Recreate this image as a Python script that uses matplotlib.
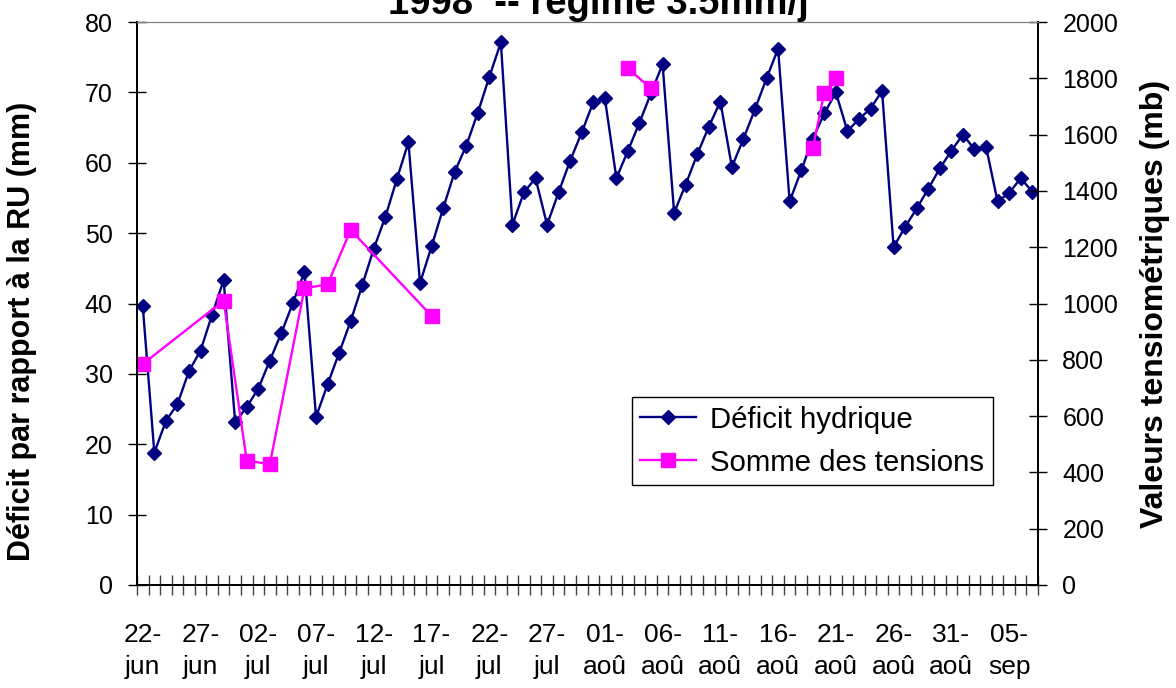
import matplotlib
matplotlib.use("Agg")
import matplotlib.pyplot as plt
import pandas as pd

plt.rcParams['font.family'] = ['Liberation Sans', 'DejaVu Sans']

# Données : déficit hydrique journalier (mm), du 22-jun au 07-sep 1998
deficit = [39.6, 18.8, 23.3, 25.7, 30.4, 33.3, 38.4, 43.3, 23.1, 25.3,
           27.9, 31.9, 35.8, 40.1, 44.5, 23.9, 28.5, 33.0, 37.5, 42.6,
           47.8, 52.3, 57.7, 62.9, 42.9, 48.1, 53.5, 58.7, 62.4, 67.1,
           72.2, 77.1, 51.2, 55.8, 57.8, 51.2, 55.8, 60.3, 64.3, 68.6,
           69.2, 57.8, 61.7, 65.7, 69.9, 74.0, 52.9, 56.9, 61.2, 65.1,
           68.7, 59.4, 63.4, 67.6, 72.0, 76.2, 54.5, 58.9, 63.4, 67.0,
           70.0, 64.5, 66.2, 67.7, 70.2, 48.0, 50.9, 53.5, 56.3, 59.2,
           61.7, 64.0, 61.9, 62.3, 54.5, 55.7, 57.8, 55.9]

# Somme des tensions (mb) : jours de mesure (indice du jour) et valeurs
tension_jours_1 = [0, 7, 9, 11, 14, 16, 18, 25]
tension_val_1 = [785, 1010, 442, 429, 1054, 1068, 1261, 956]
tension_jours_2 = [42, 44]
tension_val_2 = [1835, 1764]
tension_jours_3 = [58, 59, 60]
tension_val_3 = [1551, 1749, 1800]

MOIS = {6: 'jun', 7: 'jul', 8: 'aoû', 9: 'sep'}
dates = pd.date_range('1998-06-22', periods=len(deficit), freq='D')
etiquettes = [f"{d.day:02d}-\n{MOIS[d.month]}" for d in dates]

fig = plt.figure(figsize=(11.76, 6.88), dpi=100)
ax = fig.add_axes([137/1176, 1 - 585/688, (1038-137)/1176, (585-22)/688])
ax2 = ax.twinx()

x = list(range(len(deficit)))
l1, = ax.plot(x, deficit, color='#000080', lw=1.7, marker='D', ms=7.4,
              label='Déficit hydrique', zorder=3)

sty = dict(color='#FF00FF', lw=1.7, marker='s', ms=9.5)
l2, = ax2.plot(tension_jours_1, tension_val_1, label='Somme des tensions', **sty)
ax2.plot(tension_jours_2, tension_val_2, **sty)
ax2.plot(tension_jours_3, tension_val_3, **sty)

ax.set_xlim(-0.5, len(deficit) - 0.5)
ax.set_ylim(0, 80)
ax2.set_ylim(0, 2000)
ax.set_yticks(range(0, 81, 10))
ax2.set_yticks(range(0, 2001, 200))

# étiquettes tous les 5 jours, graduations entre les jours
ax.set_xticks(x[::5])
ax.set_xticklabels(etiquettes[::5], linespacing=1.45)
ax.set_xticks([i - 0.5 for i in range(len(deficit) + 1)], minor=True)
ax.tick_params(axis='x', which='major', length=0, pad=27, labelsize=19)
ax.tick_params(axis='x', which='minor', direction='inout', length=14,
               width=1, color='#404040')
ax.tick_params(axis='y', direction='inout', length=13, width=1,
               pad=11, labelsize=18)
ax2.tick_params(axis='y', direction='inout', length=13, width=1,
                pad=11, labelsize=18)

for a in (ax, ax2):
    a.spines['top'].set_color('#808080')
    a.spines['left'].set_linewidth(1.3)
    a.spines['right'].set_linewidth(1.3)
    a.spines['bottom'].set_linewidth(1.3)

fig.text(22/1176, 1 - 331/688, 'Déficit par rapport à la RU (mm)',
         rotation=90, ha='center', va='center', fontsize=22, fontweight='bold')
fig.text(1155/1176, 1 - 304/688, 'Valeurs tensiométriques (mb)',
         rotation=90, ha='center', va='center', fontsize=23, fontweight='bold')

fig.text(598/1176, 1 - 14/688, '1998  -- régime 3.5mm/j', ha='center',
         va='baseline', fontsize=27.5, fontweight='bold')

leg = ax2.legend([l1, l2], ['Déficit hydrique', 'Somme des tensions'],
                 loc='upper left', bbox_to_anchor=(0.549, 0.334),
                 borderaxespad=0, fontsize=21.2, fancybox=False,
                 framealpha=1, edgecolor='black', handlelength=1.9,
                 handletextpad=0.45, borderpad=0.3, labelspacing=0.5)
leg.get_frame().set_linewidth(1.0)

fig.savefig('out.png', dpi=100)
